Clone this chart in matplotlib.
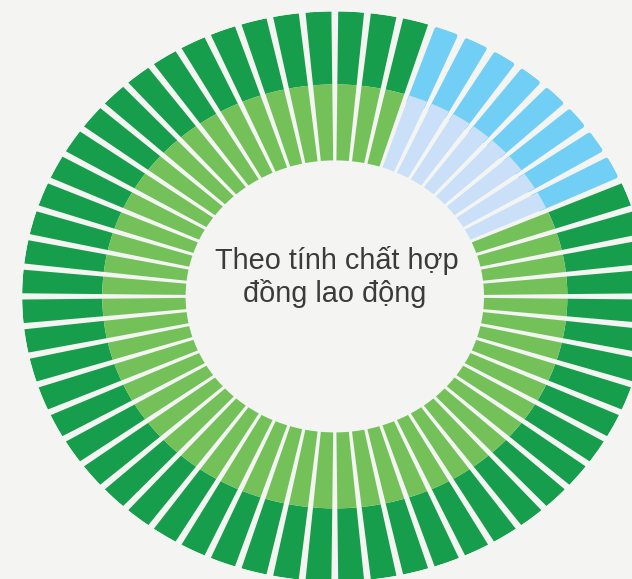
import numpy as np
import matplotlib
matplotlib.use("Agg")
import matplotlib.pyplot as plt

# ---- data -------------------------------------------------------------
# spokes in clockwise order starting at 12 o'clock
group_names = ["Green A", "Blue", "Green B"]
group_counts = [3, 8, 49]
group_kind = ["green", "blue", "green"]
base_radius = 136          # empty centre
inner_band = 76            # light inner band length
outer_band = 73            # dark outer band length
title_lines = ["Theo tính chất hợp", "đồng lao động"]

colors = {
    "green": ("#74c15a", "#179e4c"),
    "blue": ("#c9e0f8", "#71cff5"),
}

# ---- figure -----------------------------------------------------------
W, H = 632, 579
fig = plt.figure(figsize=(W / 100, H / 100), dpi=100)
fig.patch.set_facecolor("#f4f5f3")

cx, cy = 334.8, 296.4
r_out = base_radius + inner_band + outer_band
sx = 1.097
left = cx - r_out * sx
top = cy - r_out
ax = fig.add_axes([left / W, 1 - (top + 2 * r_out) / H, 2 * r_out * sx / W, 2 * r_out / H],
                  projection="polar")
ax.set_aspect("auto")
ax.set_theta_zero_location("N")
ax.set_theta_direction(-1)
ax.set_ylim(0, r_out)
ax.axis("off")
ax.patch.set_alpha(0)

kinds = []
for k, c in zip(group_kind, group_counts):
    kinds += [k] * c
n = len(kinds)
step = 2 * np.pi / n
gap = np.deg2rad(1.25)
theta = (np.arange(n) + 0.5) * step

for i, k in enumerate(kinds):
    light, dark = colors[k]
    if k == "blue":
        lw_px = 5.0
        shrink = lw_px / 2
        ax.bar(theta[i], r_out - shrink - (base_radius + inner_band - 6),
               width=step - gap - 2 * shrink / 250,
               bottom=base_radius + inner_band - 6, color=dark, edgecolor=dark,
               linewidth=lw_px * 0.72, joinstyle="round", zorder=2)
    else:
        ax.bar(theta[i], outer_band, width=step - gap, bottom=base_radius + inner_band,
               color=dark, linewidth=0, zorder=2)
    ax.bar(theta[i], inner_band, width=step - gap, bottom=base_radius,
           color=light, linewidth=0, zorder=3)

fig.text(337 / W, 1 - 269.3 / H, title_lines[0], ha="center", va="baseline",
         fontsize=20.8, color="#3b3b3b", family=["Liberation Sans", "DejaVu Sans"])
fig.text(335 / W, 1 - 301.7 / H, title_lines[1], ha="center", va="baseline",
         fontsize=20.8, color="#3b3b3b", family=["Liberation Sans", "DejaVu Sans"])

fig.savefig("out.png", dpi=100, facecolor=fig.get_facecolor())
